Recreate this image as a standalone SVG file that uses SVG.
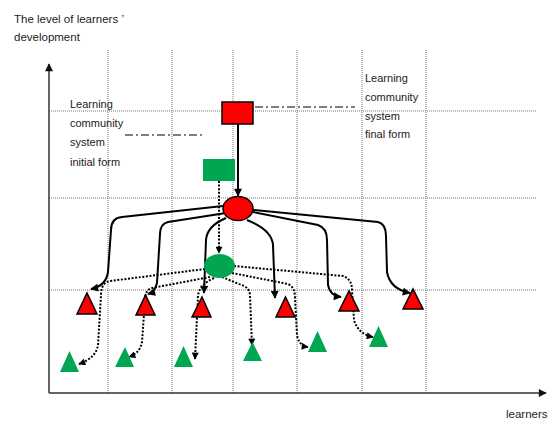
<svg xmlns="http://www.w3.org/2000/svg" width="551" height="421" viewBox="0 0 551 421">
<style>
.txt{font-family:"Liberation Sans",Arial,sans-serif;font-size:11px;fill:#222}
.grid{stroke:#777;stroke-width:1;stroke-dasharray:1 1;fill:none}
.axis{stroke:#333;stroke-width:1.5;fill:none}
.solid{stroke:#000;stroke-width:2;fill:none;marker-end:url(#ah)}
.dot{stroke:#000;stroke-width:2;stroke-dasharray:2 1.6;fill:none;marker-end:url(#ahs)}
.dashdot{stroke:#000;stroke-width:1;stroke-dasharray:8 3 2 3;fill:none}
.red{fill:#ff0000;stroke:#000;stroke-width:1.5}
.green{fill:#00a651}
</style>
<defs>
<marker id="ah" viewBox="0 0 10 10" refX="9" refY="5" markerWidth="9" markerHeight="8" markerUnits="userSpaceOnUse" orient="auto"><path d="M0,0 L10,5 L0,10 z" fill="#000"/></marker>
<marker id="ahs" viewBox="0 0 10 10" refX="9" refY="5" markerWidth="8" markerHeight="7" markerUnits="userSpaceOnUse" orient="auto"><path d="M0,0 L10,5 L0,10 z" fill="#000"/></marker>
<marker id="axh" viewBox="0 0 10 10" refX="9" refY="5" markerWidth="10" markerHeight="8" markerUnits="userSpaceOnUse" orient="auto"><path d="M0,0 L10,5 L0,10 z" fill="#111"/></marker>
</defs>
<g id="grid">
<path class="grid" d="M108,50V393M172,50V393M233,50V393M297,50V393M362,50V393M426,50V393"/>
<path class="grid" d="M49,111H537M49,198H537M49,290H537"/>
</g>
<g id="axes">
<path class="axis" d="M49,393V64" marker-end="url(#axh)"/>
<path class="axis" d="M49,393H546" marker-end="url(#axh)"/>
</g>
<g id="labels">
<text class="txt" x="14" y="23" style="font-size:11.5px">The level of learners ’</text>
<text class="txt" x="14" y="41" style="font-size:11.5px">development</text>
<text class="txt" x="70" y="108">Learning</text>
<text class="txt" x="70" y="127">community</text>
<text class="txt" x="70" y="146">system</text>
<text class="txt" x="70" y="166">initial form</text>
<text class="txt" x="365" y="82">Learning</text>
<text class="txt" x="365" y="101">community</text>
<text class="txt" x="365" y="120">system</text>
<text class="txt" x="365" y="138">final form</text>
<text class="txt" x="506" y="418" style="font-size:11.5px">learners</text>
</g>
<g id="connectors">
<path class="dashdot" d="M255,107H355"/>
<path class="dashdot" d="M125,135H203"/>
<path class="solid" d="M238,124V196"/>
<path class="solid" d="M223,206 L122,217 Q111,218 111,230 L108,272 Q106,286 91,289"/>
<path class="solid" d="M226,213 L168,222 Q160,224 160,234 L157,283 Q155,292 148,294"/>
<path class="solid" d="M226,218 Q207,226 206,240 L204,293"/>
<path class="solid" d="M247,220 Q272,230 273,245 L275,298"/>
<path class="solid" d="M253,212 L318,225 Q327,228 327,240 L328,285 Q330,296 341,297"/>
<path class="solid" d="M253,210 L378,222 Q386,224 386,236 L387,272 Q390,289 410,293"/>
<path class="dot" d="M219,181 L219,253"/>
<path class="dot" d="M205,269 L110,281 Q101,283 101,295 L98,345 Q96,358 79,364"/>
<path class="dot" d="M210,277 L152,288 Q145,290 145,300 L142,342 Q140,353 129,357"/>
<path class="dot" d="M214,278 Q199,285 198,296 L195,359"/>
<path class="dot" d="M222,277 L244,286 Q250,289 250,296 L252,345"/>
<path class="dot" d="M232,273 L288,284 Q295,287 295,298 L297,335 Q299,346 308,347"/>
<path class="dot" d="M234,266 L343,276 Q352,279 352,290 L354,320 Q358,334 373,337"/>
</g>
<g id="final-form"><rect class="red" x="222" y="102" width="31" height="22"/></g>
<g id="initial-form"><rect class="green" x="203" y="159" width="32" height="22"/></g>
<g id="red-ellipse"><ellipse class="red" cx="238" cy="208.5" rx="15" ry="12"/></g>
<g id="green-ellipse"><ellipse class="green" cx="219.5" cy="266" rx="15.5" ry="12"/></g>
<g id="red-1"><polygon class="red" points="77,314 87,293 97,314"/></g>
<g id="red-2"><polygon class="red" points="136,315 145.5,295 155,315"/></g>
<g id="red-3"><polygon class="red" points="192,317 202,297 211,317"/></g>
<g id="red-4"><polygon class="red" points="276,317 285.5,297 295,317"/></g>
<g id="red-5"><polygon class="red" points="339,311 349,291 359,311"/></g>
<g id="red-6"><polygon class="red" points="403,309 413,289 423,309"/></g>
<g id="green-1"><polygon class="green" points="60,372 69.5,351 79,372"/></g>
<g id="green-2"><polygon class="green" points="115,367 125,347 134,367"/></g>
<g id="green-3"><polygon class="green" points="174,367 183.5,346 193,367"/></g>
<g id="green-4"><polygon class="green" points="243,361 252.5,342 262,361"/></g>
<g id="green-5"><polygon class="green" points="308,352 317.5,331 327,352"/></g>
<g id="green-6"><polygon class="green" points="369,347 378.5,326 388,347"/></g>
</svg>
